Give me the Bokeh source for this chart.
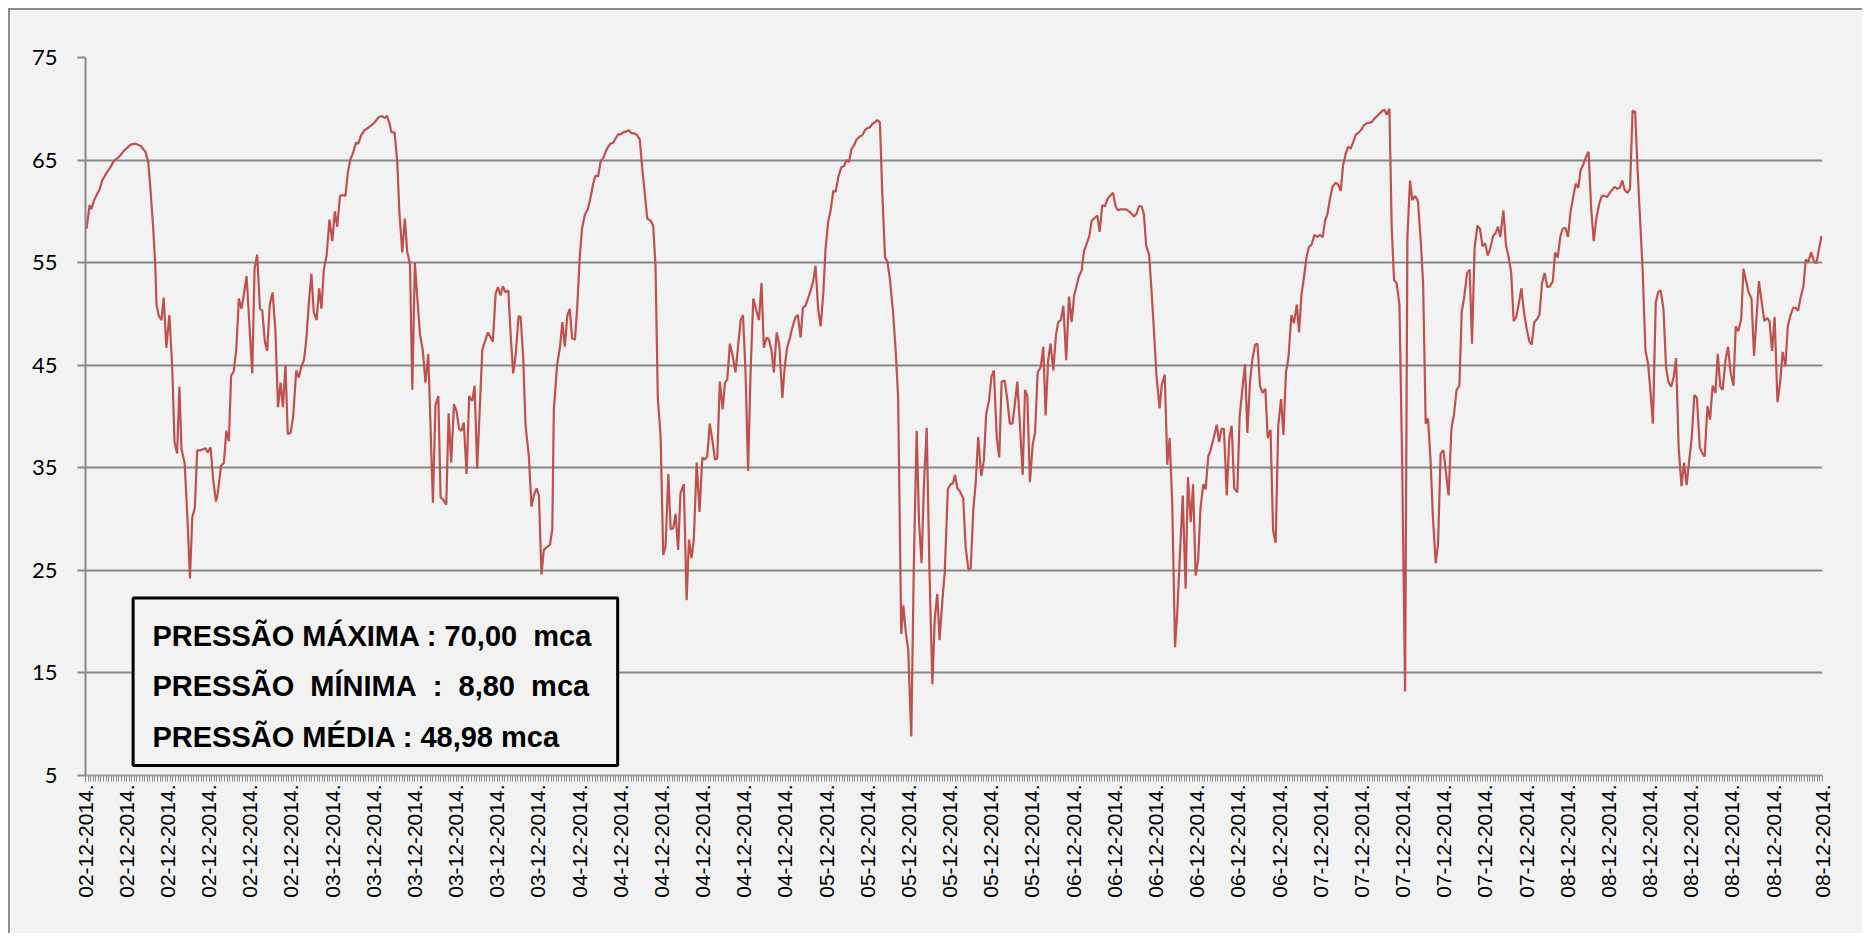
import math
from bokeh.plotting import figure
from bokeh.models import Range1d, FixedTicker, BoxAnnotation, Label
from bokeh.embed import file_html
from bokeh.resources import INLINE

# ---- data: (category index of the 15-min reading, pressure in mca) ----
day_a = [(0.4,58.3),(1.6,60.6),(2.3,60.2),(3.2,61.0),(4.5,61.7),(5.4,62.1),(6.5,63.0),(7.8,63.6),(9.7,64.3),(11.0,64.9),
 (13.0,65.3),(14.9,65.9),(17.5,66.5),(19.4,66.6),(21.4,66.4),(23.3,65.8),(24.4,64.8),(25.3,62.0),(26.3,58.4),(27.1,54.8),
 (27.6,50.9),(28.5,49.8),(29.5,49.4),(30.4,51.6),(31.4,46.7),(32.6,49.9),(33.7,44.8),(34.6,37.5),(35.6,36.4),(36.5,42.9),
 (37.3,36.8),(38.5,35.5),(39.5,30.7),(40.6,24.2),(41.5,30.2),(42.5,31.1),(43.4,36.7),(44.7,36.7),(46.6,36.9),(47.5,36.5),
 (48.6,37.0),(49.6,33.9),(50.7,31.7),(51.4,32.5),(52.7,35.2),(53.8,35.5),(54.7,38.6),(55.7,37.6),(56.6,44.0),(57.6,44.4),
 (58.6,46.6),(59.6,51.5),(60.6,50.5),(61.5,51.8),(62.6,53.7),(64.8,44.2),(65.7,54.4),(66.7,55.8),(67.8,50.5),(68.7,50.3),
 (69.7,47.3),(70.6,46.4),(71.6,50.9),(72.7,52.1),(73.8,48.4),(74.8,40.9),(75.8,43.3),(76.7,40.9),(77.7,45.0),(78.6,38.3),
 (79.7,38.4),(80.7,40.0),(81.9,44.5),(82.9,43.8),(83.8,44.8),(84.9,45.5),(85.8,47.5),(86.8,51.1),(87.8,53.9),(88.7,50.2),
 (89.8,49.4),(90.8,52.5),(91.7,50.5),(92.6,54.3),(93.7,55.7),(94.8,59.2),(95.9,57.1),(96.9,60.0),(97.8,58.5),(98.9,61.5),
 (99.8,61.6),(101.0,61.5),(102.0,63.9),(103.0,65.1),(104.0,65.7),(105.1,66.7),(106.0,66.6),(107.1,67.4),(108.4,67.9),(110.1,68.2),
 (112.1,68.6),(114.0,69.2),(115.3,69.3),(116.2,69.1),(117.2,69.3),(118.1,68.6),(118.9,67.7),(120.1,67.7),(121.1,65.0),(122.0,59.8),
 (123.1,56.0),(124.1,59.3),(125.0,56.1),(126.1,54.8),(127.0,42.6),(128.0,55.0),(128.9,51.7),(130.0,48.0),(131.1,46.4),(132.1,43.3),
 (133.2,46.1),(134.1,38.9),(135.0,31.6),(136.0,41.1),(137.1,42.0),(138.0,32.1),(139.0,31.9),(140.2,31.4),(141.1,40.3),(142.1,35.5),
 (143.2,41.2),(144.2,40.5),(145.2,38.8),(146.1,38.6),(147.0,39.4),(148.1,34.4),(149.1,42.0),(150.3,41.5),(151.2,43.0),(152.2,34.9),
 (154.2,46.5),(155.2,47.3),(156.4,48.2),(158.3,47.3),(159.4,52.0),(160.3,52.6),(161.3,51.8),(162.2,52.7),(163.2,52.1),(164.3,52.3),
 (165.2,48.0),(166.2,44.2),(167.2,46.1),(168.3,49.8)]

day_b = [(169.1,49.7),(170.1,45.7),(171.0,39.1),(172.3,36.1),(173.3,31.2),(174.2,32.3),(175.3,33.0),(176.2,32.3),(177.2,24.6),(178.1,27.0),
 (179.4,27.3),(180.5,27.5),(181.4,29.0),(182.0,40.7),(183.3,45.1),(184.4,46.8),(185.3,49.2),(186.3,46.8),(187.2,49.8),(188.2,50.5),
 (189.1,47.6),(190.2,47.5),(191.1,50.7),(192.1,55.7),(193.0,58.4),(194.1,59.7),(195.2,60.2),(196.3,61.4),(197.3,62.7),(198.2,63.5),
 (199.2,63.4),(200.2,64.9),(201.2,65.2),(202.1,65.8),(203.1,66.3),(204.0,66.6),(205.1,66.7),(206.0,67.1),(207.0,67.5),(207.9,67.5),
 (209.0,67.7),(210.3,67.8),(211.2,67.9),(212.2,67.6),(213.4,67.6),(214.4,67.4),(215.4,67.0),(216.3,64.3),(217.4,61.6),(218.3,59.3),
 (219.6,59.1),(220.6,58.6),(221.5,54.8),(222.4,41.8),(223.5,38.0),(224.5,26.5),(225.4,27.3),(226.5,34.4),(227.4,29.0),(228.4,29.1),
 (229.3,30.5),(230.3,27.0),(231.2,32.5),(232.5,33.4),(233.6,22.1),(234.5,28.0),(235.5,26.2),(236.4,28.0),(237.5,35.5),(238.6,30.7),
 (239.7,36.0),(240.6,35.8),(241.6,36.1),(242.6,39.3),(243.6,37.7),(244.6,35.8),(245.5,35.9),(246.5,43.4),(247.6,40.7),(248.5,43.3),
 (249.4,43.6),(250.4,47.1),(251.5,45.9),(252.6,44.3),(253.5,46.6),(254.6,49.4),(255.5,49.9),(256.5,44.3),(257.5,34.7),(258.4,43.9),
 (259.5,51.5),(260.5,50.5),(261.7,49.4),(262.7,53.0),(263.6,46.7),(264.7,47.7),(265.6,47.5),(266.6,46.4),(267.5,44.3),(268.6,48.2),
 (269.6,47.0),(270.8,41.8),(271.7,44.8),(272.7,46.8),(273.7,47.6),(274.6,48.6),(275.9,49.7),(276.8,49.9),(277.9,47.7),(278.8,50.6),
 (279.8,50.8),(280.9,51.6),(281.8,52.3),(282.8,53.2),(283.7,54.7),(284.7,50.5),(285.7,48.8),(286.7,52.0),(287.6,56.4),(288.6,59.0),
 (289.5,60.0),(290.6,62.0),(291.5,61.9),(292.5,63.3),(293.7,64.3),(294.7,64.4),(295.8,65.0),(296.7,64.8),(297.7,66.1),(298.6,66.4),
 (299.6,67.0),(300.9,67.3),(301.8,67.4),(302.9,67.9),(303.8,68.1),(304.8,68.2),(305.7,68.5),(306.8,68.7),(307.7,68.9),(308.7,68.7),
 (309.6,62.0),(310.7,55.5),(311.6,55.1),(312.6,53.4),(313.8,50.2),(314.8,46.6),(315.8,41.8),(316.4,30.2),(317.0,18.8),(317.8,21.6),
 (318.8,18.9),(319.7,17.3),(320.9,8.8),(321.9,25.7),(323.0,38.6),(323.9,29.8),(324.9,25.7),(325.8,33.2),(326.9,38.9),(327.9,25.7),
 (329.1,13.9),(330.0,20.2),(331.0,22.7),(331.9,18.2),(332.9,21.8),(333.9,24.8),(335.1,32.9),(336.2,33.4),(337.1,33.5),(337.9,34.3),
 (338.8,33.0),(339.8,32.7)]

day_c = [(341.1,32.0),(342.0,27.3),(343.1,25.1),(344.0,25.2),(345.0,30.9),(345.9,33.4),(346.9,38.0),(348.1,34.2),(349.1,35.7),(350.0,40.2),
 (351.1,41.6),(352.1,43.9),(353.0,44.5),(354.1,38.0),(355.1,36.0),(356.0,43.4),(357.2,43.5),(358.2,41.7),(359.2,39.3),(360.2,39.3),
 (361.1,41.1),(362.1,43.4),(363.1,39.3),(364.2,34.3),(365.1,42.6),(366.0,42.0),(367.0,33.6),(368.1,37.3),(369.0,38.4),(370.0,44.3),
 (371.2,44.8),(372.2,46.8),(373.1,40.1),(374.1,45.5),(375.0,47.1),(376.1,44.5),(377.1,47.9),(378.0,49.2),(379.0,49.4),(380.0,50.8),
 (381.1,45.5),(382.2,51.7),(383.2,49.2),(384.2,51.8),(385.2,52.8),(386.1,53.7),(387.1,54.2),(388.0,56.1),(389.0,56.8),(390.1,57.6),
 (391.0,59.1),(391.9,59.3),(393.2,59.6),(394.1,58.0),(395.1,60.6),(396.2,60.5),(397.1,61.2),(398.1,61.5),(399.3,61.8),(400.3,60.5),
 (401.2,60.1),(402.3,60.2),(404.2,60.2),(405.5,60.0),(406.4,59.8),(407.4,59.5),(408.5,59.8),(409.4,60.5),(410.4,60.5),(411.3,59.7),
 (412.2,56.6),(413.3,55.8),(414.2,52.5),(415.2,48.4),(416.2,43.9),(417.4,40.8),(418.2,43.0),(419.4,44.1),(420.4,35.3),(421.3,37.9),
 (422.3,31.6),(423.4,17.5),(424.3,21.1),(425.3,26.6),(426.4,32.3),(427.5,23.2),(428.4,34.1),(429.5,29.7),(430.4,33.4),(431.4,24.5),
 (432.4,26.1),(433.3,31.1),(434.4,33.4),(435.3,32.9),(436.3,36.1),(437.2,36.7),(438.5,38.0),(439.6,39.2),(440.5,37.5),(441.5,38.8),
 (442.4,38.8),(443.5,32.3),(444.5,37.9),(445.4,39.1),(446.4,33.0),(447.6,32.6),(448.5,40.0),(449.5,42.5),(450.6,45.1),(451.5,38.4),
 (452.5,43.3),(453.4,45.5),(454.5,47.0),(455.4,47.1),(456.4,43.0),(457.4,42.3),(458.5,42.7),(459.4,37.9),(460.5,38.7),(461.5,28.9),
 (462.5,27.7),(463.5,39.1),(464.6,41.7),(465.5,38.2),(466.5,44.3),(467.5,45.8),(468.6,49.9),(469.6,49.1),(470.7,50.9),(471.6,48.2),
 (472.5,51.8),(473.5,53.6),(474.5,55.5),(475.4,56.5),(476.5,56.8),(477.6,57.7),(478.7,57.5),(479.7,57.7),(480.8,57.5),(481.7,59.1),
 (482.6,59.7),(483.6,61.2),(484.6,62.4),(485.8,62.8),(486.8,62.6),(487.8,62.0),(488.7,64.5),(489.7,65.6),(490.7,66.3),(491.6,66.1),
 (492.7,66.8),(493.7,67.5),(494.9,67.7),(495.9,68.0),(496.8,68.4),(498.1,68.6),(499.8,68.7),(501.1,69.1),(502.7,69.5),(504.0,69.8),
 (504.9,69.9),(505.6,69.4),(506.7,70.0),(507.6,58.4),(508.5,53.3),(509.5,53.0),(510.6,50.9),(511.7,34.8),(512.8,13.2),(513.7,57.5),
 (514.7,63.0)]

day_d = [(515.6,61.1),(516.7,61.5),(517.8,61.0),(518.9,57.0),(519.8,53.0),(520.8,39.3),(521.7,39.8),(522.7,35.7),(523.6,30.2),(524.7,25.7),
 (525.6,27.5),(526.6,36.4),(527.7,36.7),(528.7,34.5),(529.7,32.3),(530.8,38.8),(531.8,40.2),(532.8,42.6),(533.9,43.0),(534.8,50.2),
 (535.8,51.7),(536.9,54.0),(537.9,54.3),(538.8,47.1),(539.8,56.4),(540.9,58.6),(541.9,58.3),(542.9,56.6),(543.9,56.9),(544.9,55.7),
 (545.9,56.4),(547.0,57.6),(548.0,57.9),(548.9,58.5),(549.8,57.5),(551.0,60.1),(552.0,56.7),(552.9,55.7),(554.0,54.1),(555.0,49.3),
 (556.0,49.7),(556.9,50.9),(558.0,52.5),(559.0,50.2),(560.0,48.6),(561.1,47.3),(562.0,47.0),(563.0,49.2),(564.1,49.5),(565.0,49.9),
 (566.0,53.0),(567.0,54.0),(568.1,52.6),(569.1,52.7),(570.2,53.2),(571.1,56.0),(572.1,55.5),(573.1,57.5),(574.0,58.3),(575.1,58.4),
 (576.1,57.5),(577.1,60.0),(578.2,61.5),(579.1,62.7),(580.1,62.3),(581.0,64.0),(582.1,64.6),(583.1,65.3),(584.1,65.8),(585.1,60.3),
 (586.1,57.1),(587.1,59.3),(588.2,60.7),(589.2,61.5),(590.2,61.5),(591.3,61.4),(592.3,61.8),(593.3,62.1),(594.3,62.4),(595.3,62.2),
 (596.2,62.3),(597.2,63.0),(598.1,62.1),(599.2,61.8),(600.2,62.2),(601.2,69.8),(602.2,69.7),(603.1,64.3),(604.1,59.3),(605.1,54.3),
 (606.2,46.4),(607.2,45.2),(608.2,42.3),(609.1,39.3),(610.2,51.1),(611.1,52.1),(612.1,52.3),(613.2,50.5),(614.2,44.8),(615.1,43.4),
 (616.2,42.9),(617.2,43.9),(618.1,45.7),(619.1,37.0),(620.2,33.2),(621.2,35.5),(622.2,33.3),(623.1,35.5),(624.2,38.0),(625.2,42.1),
 (626.2,41.8),(627.3,37.0),(628.3,36.4),(629.2,36.1),(630.3,41.0),(631.3,39.7),(632.3,43.0),(633.4,42.3),(634.3,46.1),(635.3,42.9),
 (636.2,42.6),(637.3,45.5),(638.3,46.8),(639.3,44.3),(640.4,43.0),(641.3,48.8),(642.3,48.3),(643.4,49.5),(644.3,54.4),(645.3,53.2),
 (646.3,52.1),(647.4,51.5),(648.4,45.9),(649.3,49.4),(650.3,53.2),(651.4,51.1),(652.4,49.3),(653.5,49.6),(654.4,49.3),(655.4,46.4),
 (656.4,49.7),(657.5,41.4),(658.5,43.2),(659.5,46.3),(660.6,44.9),(661.5,48.8),(662.5,49.8),(663.6,50.6),(664.6,50.6),(665.5,50.3),
 (666.5,51.6),(667.6,52.7),(668.5,55.3),(669.5,55.1),(670.6,56.0),(671.6,55.2),(672.6,54.9),(673.7,56.4),(674.6,57.6)]

tick_positions = [0, 16, 32, 48, 64, 80,
                  96, 112, 128, 144, 160, 176,
                  192, 208, 224, 240, 256, 272,
                  288, 304, 320, 336, 352, 368,
                  384, 400, 416, 432, 448, 464,
                  480, 496, 512, 528, 544, 560,
                  576, 592, 608, 624, 640, 656, 675]
tick_labels = (["02-12-2014."] * 6 + ["03-12-2014."] * 6 + ["04-12-2014."] * 6 +
               ["05-12-2014."] * 6 + ["06-12-2014."] * 6 + ["07-12-2014."] * 6 +
               ["08-12-2014."] * 7)
y_ticks = [5, 15, 25, 35, 45, 55, 65, 75]
n_categories = 676

NB = "\u00a0"  # keeps the wide gaps of the original box text
stats_lines = ["PRESSÃO MÁXIMA : 70,00" + NB + " mca",
               "PRESSÃO" + NB + " MÍNIMA" + NB + " :" + NB + " 8,80" + NB + " mca",
               "PRESSÃO MÉDIA : 48,98 mca"]

# ---- build ----
readings = day_a + day_b + day_c + day_d
xs = [r[0] for r in readings]
ys = [r[1] for r in readings]

BG = "#f2f2f2"
GRID = "#878787"

p = figure(width=1854, height=925,
           x_range=Range1d(0, n_categories - 1), y_range=Range1d(5, 75),
           output_backend="svg", toolbar_location=None,
           min_border_left=75, min_border_right=42, min_border_top=47, min_border_bottom=160,
           background_fill_color=BG, border_fill_color=BG, outline_line_color=None,
           styles={"margin-top": "8px", "margin-left": "8px",
                   "border-top": "2px solid #8c8c8c", "border-left": "2px solid #8c8c8c"})

p.line(xs, ys, line_color="#c0504d", line_width=2.2)

# y axis
p.yaxis.ticker = FixedTicker(ticks=y_ticks)
p.ygrid.ticker = FixedTicker(ticks=y_ticks)
p.ygrid.grid_line_color = GRID
p.ygrid.grid_line_width = 2
p.xgrid.grid_line_color = None
p.yaxis.axis_line_color = GRID
p.yaxis.axis_line_width = 2
p.yaxis.major_tick_line_color = GRID
p.yaxis.major_tick_line_width = 2
p.yaxis.major_tick_out = 8
p.yaxis.major_tick_in = 0
p.yaxis.minor_tick_line_color = None
p.yaxis.major_label_standoff = 20
p.yaxis.major_label_text_font = "Lato"
p.yaxis.major_label_text_font_size = "22px"
p.yaxis.major_label_text_color = "#000000"

# x axis
p.xaxis.ticker = FixedTicker(ticks=tick_positions, minor_ticks=list(range(n_categories)))
p.xaxis.major_label_overrides = {t: l for t, l in zip(tick_positions, tick_labels)}
p.xaxis.major_label_orientation = math.pi / 2
p.xaxis.major_label_text_font = "Liberation Sans"
p.xaxis.major_label_text_font_size = "21px"
p.xaxis.major_label_text_color = "#000000"
p.xaxis.major_label_standoff = 3
p.xaxis.axis_line_color = "#a0a0a0"
p.xaxis.axis_line_width = 2
p.xaxis.major_tick_out = 6
p.xaxis.major_tick_in = 0
p.xaxis.minor_tick_out = 6
p.xaxis.minor_tick_in = 0
p.xaxis.major_tick_line_color = "#8c8c8c"
p.xaxis.minor_tick_line_color = "#8c8c8c"
p.xaxis.major_tick_line_width = 1
p.xaxis.minor_tick_line_width = 1

# statistics box
box = BoxAnnotation(left=18.5, right=206.8, top=22.3, bottom=5.97,
                    fill_color=BG, fill_alpha=1.0,
                    line_color="#000000", line_alpha=1.0, line_width=3)
p.add_layout(box)
for text, base in zip(stats_lines, [18.6, 13.73, 8.73]):
    p.add_layout(Label(x=26.0, y=base, text=text, text_font="Liberation Sans",
                       text_font_style="bold", text_font_size="29px",
                       text_color="#000000", text_baseline="alphabetic", text_align="left"))

open("out.html", "w").write(file_html(p, INLINE))
